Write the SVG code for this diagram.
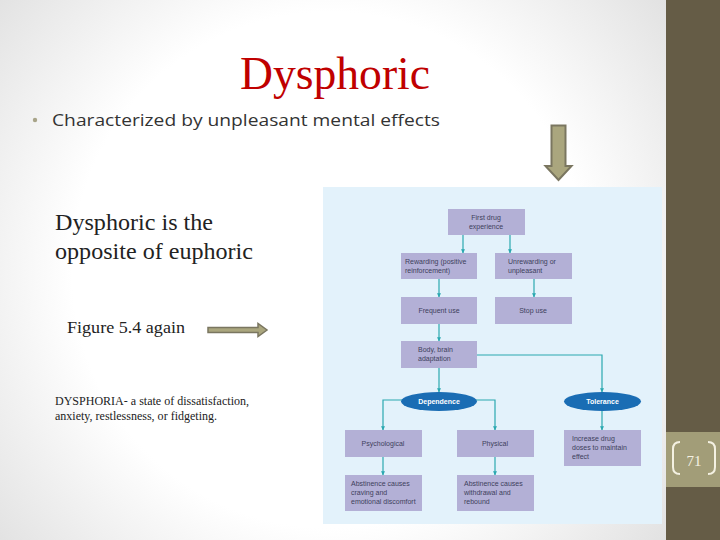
<svg xmlns="http://www.w3.org/2000/svg" width="720" height="540" viewBox="0 0 720 540">
<defs>
<radialGradient id="bg" cx="330" cy="270" r="430" gradientUnits="userSpaceOnUse">
<stop offset="0" stop-color="#ffffff"/>
<stop offset="0.6" stop-color="#ffffff"/>
<stop offset="1" stop-color="#e2e2e2"/>
</radialGradient>
<marker id="ah" viewBox="0 0 6 6" refX="5.5" refY="3" markerWidth="4" markerHeight="4" orient="auto" markerUnits="userSpaceOnUse">
<path d="M0,0 L6,3 L0,6 z" fill="#2aa8b0"/>
</marker>
<style>
.box{fill:#b3b0d6}
.ell{fill:#1a6db4}
.bt{font-family:"Liberation Sans",Lato,sans-serif;font-size:7px;fill:#3e3f5c}
.et{font-family:"Liberation Sans",Lato,sans-serif;font-size:7px;font-weight:bold;fill:#ffffff}
.con{fill:none;stroke:#2aa8b0;stroke-width:1.2}
.serif{font-family:"Liberation Serif","Times New Roman",serif;fill:#222222}
</style>
</defs>
<rect x="0" y="0" width="720" height="540" fill="url(#bg)"/>
<rect x="666" y="0" width="54" height="540" fill="#655c46"/>
<rect x="666" y="432" width="54" height="55" fill="#a29d78"/>
<g id="page-number">
<path d="M680,442 Q673,442 673,449 L673,467 Q673,474 680,474" fill="none" stroke="#f4f1e2" stroke-width="2"/>
<path d="M708,442 Q715,442 715,449 L715,467 Q715,474 708,474" fill="none" stroke="#f4f1e2" stroke-width="2"/>
<text x="694" y="466" text-anchor="middle" font-family="Liberation Serif,serif" font-size="15" fill="#f4f1e2">71</text>
</g>
<text x="240" y="89" font-family="Liberation Serif,serif" font-size="46" fill="#c00000" textLength="190" lengthAdjust="spacingAndGlyphs">Dysphoric</text>
<circle cx="35" cy="120" r="2.2" fill="#a8a489"/>
<text x="52" y="126" font-family="Open Sans,Lato,sans-serif" font-size="17" fill="#333333" textLength="388" lengthAdjust="spacingAndGlyphs">Characterized by unpleasant mental effects</text>
<text class="serif" x="55" y="230" font-size="23" textLength="158" lengthAdjust="spacingAndGlyphs">Dysphoric is the</text>
<text class="serif" x="55" y="259" font-size="23" textLength="198" lengthAdjust="spacingAndGlyphs">opposite of euphoric</text>
<text class="serif" x="67" y="333" font-size="17" textLength="118" lengthAdjust="spacingAndGlyphs">Figure 5.4 again</text>
<text class="serif" x="55" y="405" font-size="12" textLength="194" lengthAdjust="spacingAndGlyphs">DYSPHORIA- a state of dissatisfaction,</text>
<text class="serif" x="55" y="420" font-size="12" textLength="162" lengthAdjust="spacingAndGlyphs">anxiety, restlessness, or fidgeting.</text>
<g id="arrow-right">
<path d="M208,327.5 L258,327.5 L258,323.5 L267,330 L258,336.5 L258,332.5 L208,332.5 z" fill="#aaa67e" stroke="#7a7660" stroke-width="1.5"/>
</g>
<g id="arrow-down">
<path d="M551.5,125.5 L565.5,125.5 L565.5,166 L571.5,166 L558.5,180 L545.5,166 L551.5,166 z" fill="#aaa67e" stroke="#7a7660" stroke-width="2"/>
</g>
<rect x="323" y="187" width="339" height="337" fill="#e3f2fb"/>
<g id="connectors">
<path class="con" d="M463,235 V253" marker-end="url(#ah)"/>
<path class="con" d="M510,235 V253" marker-end="url(#ah)"/>
<path class="con" d="M439,279 V297" marker-end="url(#ah)"/>
<path class="con" d="M534,279 V297" marker-end="url(#ah)"/>
<path class="con" d="M439,324 V341" marker-end="url(#ah)"/>
<path class="con" d="M439,368 V392" marker-end="url(#ah)"/>
<path class="con" d="M477,355 H602 V392" marker-end="url(#ah)"/>
<path class="con" d="M402,400 H383 V430" marker-end="url(#ah)"/>
<path class="con" d="M476,400 H495 V430" marker-end="url(#ah)"/>
<path class="con" d="M602,411 V430" marker-end="url(#ah)"/>
<path class="con" d="M383,457 V475" marker-end="url(#ah)"/>
<path class="con" d="M495,457 V475" marker-end="url(#ah)"/>
</g>
<g id="first-drug"><rect class="box" x="448" y="209" width="77" height="26"/><text class="bt" x="486" y="220" text-anchor="middle">First drug</text><text class="bt" x="486" y="229" text-anchor="middle">experience</text></g>
<g id="rewarding"><rect class="box" x="401" y="253" width="76" height="26"/><text class="bt" x="405" y="264">Rewarding (positive</text><text class="bt" x="405" y="273">reinforcement)</text></g>
<g id="unrewarding"><rect class="box" x="495" y="253" width="77" height="26"/><text class="bt" x="508" y="264">Unrewarding or</text><text class="bt" x="508" y="273">unpleasant</text></g>
<g id="frequent-use"><rect class="box" x="401" y="297" width="76" height="27"/><text class="bt" x="439" y="313" text-anchor="middle">Frequent use</text></g>
<g id="stop-use"><rect class="box" x="495" y="297" width="77" height="27"/><text class="bt" x="533" y="313" text-anchor="middle">Stop use</text></g>
<g id="body-brain"><rect class="box" x="401" y="341" width="76" height="27"/><text class="bt" x="418" y="352">Body, brain</text><text class="bt" x="418" y="361">adaptation</text></g>
<g id="dependence"><ellipse class="ell" cx="439" cy="401.5" rx="38" ry="9.5"/><text class="et" x="439" y="404" text-anchor="middle">Dependence</text></g>
<g id="tolerance"><ellipse class="ell" cx="602.5" cy="401.5" rx="38.5" ry="9.5"/><text class="et" x="602.5" y="404" text-anchor="middle">Tolerance</text></g>
<g id="psychological"><rect class="box" x="345" y="430" width="77" height="27"/><text class="bt" x="383" y="446" text-anchor="middle">Psychological</text></g>
<g id="physical"><rect class="box" x="457" y="430" width="77" height="27"/><text class="bt" x="495" y="446" text-anchor="middle">Physical</text></g>
<g id="increase-dose"><rect class="box" x="564" y="430" width="77" height="36"/><text class="bt" x="572" y="441">Increase drug</text><text class="bt" x="572" y="450">doses to maintain</text><text class="bt" x="572" y="459">effect</text></g>
<g id="abstinence-craving"><rect class="box" x="345" y="475" width="77" height="36"/><text class="bt" x="351" y="486">Abstinence causes</text><text class="bt" x="351" y="495">craving and</text><text class="bt" x="351" y="504">emotional discomfort</text></g>
<g id="abstinence-withdrawal"><rect class="box" x="457" y="475" width="77" height="36"/><text class="bt" x="464" y="486">Abstinence causes</text><text class="bt" x="464" y="495">withdrawal and</text><text class="bt" x="464" y="504">rebound</text></g>
</svg>
